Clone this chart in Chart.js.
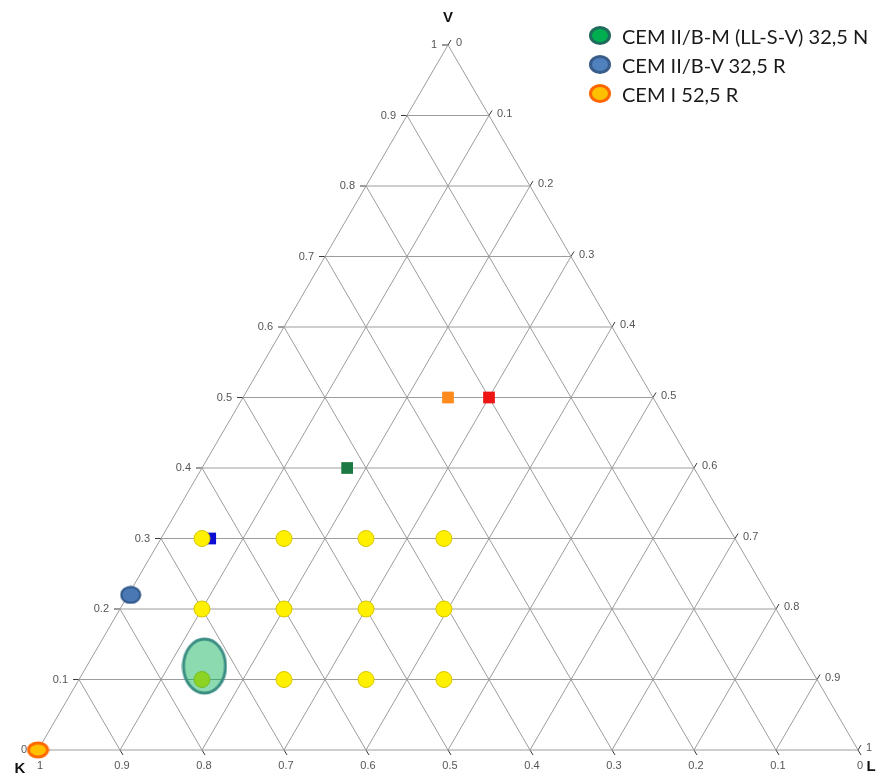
<!DOCTYPE html>
<html>
<head>
<meta charset="utf-8">
<title>Ternary diagram K – L – V</title>
<script src="https://cdn.jsdelivr.net/npm/chart.js@4.4.1/dist/chart.umd.min.js"></script>
<style>
  html, body { margin: 0; padding: 0; background: #ffffff; }
  #wrap { position: relative; width: 878px; height: 775px; overflow: hidden; }
  #chart { position: absolute; left: 0; top: 0; }
  .legend { position: absolute; left: 589px; top: 21px; font-family: Lato, "Liberation Sans", Arial, sans-serif; font-size: 20px; color: #1a1a1a; }
  .legend .row { height: 29px; display: flex; align-items: center; white-space: nowrap; }
  .legend .sw { display: inline-block; width: 16px; height: 13px; border-radius: 50%; border: 3px solid; margin-right: 11px; }
</style>
</head>
<body>
<div id="wrap">
  <canvas id="chart" width="878" height="775"></canvas>
  <div class="legend" id="legend"></div>
</div>
<script>
// ---- data -------------------------------------------------------------
// Compositions are given as fractions [K, L, V] that sum to 1.
const gridSteps  = [0.1, 0.2, 0.3, 0.4, 0.5, 0.6, 0.7, 0.8, 0.9];
const tickValues = [0, 0.1, 0.2, 0.3, 0.4, 0.5, 0.6, 0.7, 0.8, 0.9, 1];
const tickLabels = ['0', '0.1', '0.2', '0.3', '0.4', '0.5', '0.6', '0.7', '0.8', '0.9', '1'];
const cornerNames = ['K', 'L', 'V'];

// mixes (yellow dots)
const mixK = [0.65, 0.55, 0.45, 0.355, 0.70, 0.60, 0.50, 0.405, 0.75, 0.65, 0.55, 0.455];
const mixL = [0.05, 0.15, 0.25, 0.345, 0.10, 0.20, 0.30, 0.395, 0.15, 0.25, 0.35, 0.445];
const mixV = [0.30, 0.30, 0.30, 0.30,  0.20, 0.20, 0.20, 0.20,  0.10, 0.10, 0.10, 0.10];

// reference compositions (squares)
const refK = [0.64, 0.423, 0.25, 0.20];
const refL = [0.06, 0.177, 0.25, 0.30];
const refV = [0.30, 0.40,  0.50, 0.50];

// cement types
const cementNames = ['CEM II/B-M (LL-S-V) 32,5 N', 'CEM II/B-V 32,5 R', 'CEM I 52,5 R'];
const cementK = [0.7375, 0.777, 1.0];
const cementL = [0.1435, 0.003, 0.0];
const cementV = [0.119,  0.220, 0.0];

// ---- styles -----------------------------------------------------------
const refColors = ['#0c0cd2', '#1b7a43', '#ff8a1c', '#ee1515'];
const cementStyles = [
  { w: 45, h: 57, fill: 'rgba(0,176,80,0.45)', stroke: '#3b8e84', lw: 3, swFill: '#00b050', swStroke: '#1f6b5c' },
  { w: 21, h: 18, fill: '#4a78b5', stroke: '#2c5485', lw: 2, swFill: '#4f81bd', swStroke: '#385d8a' },
  { w: 22, h: 17, fill: '#ffc000', stroke: '#ff6a00', lw: 3, swFill: '#ffc000', swStroke: '#ff6600' }
];
const GRID = '#9c9c9c';

// ---- helpers ----------------------------------------------------------
const H = Math.sqrt(3) / 2;
function toXY(k, l, v) {
  const s = k + l + v;
  return { x: (l + v / 2) / s, y: (v / s) * H };
}
function ellipseImage(st) {
  const c = document.createElement('canvas');
  c.width = st.w + 1; c.height = st.h + 1;
  const g = c.getContext('2d');
  g.beginPath();
  g.ellipse(c.width / 2, c.height / 2, st.w / 2 - st.lw / 2, st.h / 2 - st.lw / 2, 0, 0, Math.PI * 2);
  g.fillStyle = st.fill; g.fill();
  g.lineWidth = st.lw; g.strokeStyle = st.stroke; g.stroke();
  return c;
}
function lineSet(a, b) {
  return {
    type: 'scatter', data: [a, b], showLine: true, borderColor: GRID, borderWidth: 1,
    pointRadius: 0, pointHoverRadius: 0, fill: false, order: 100, clip: false
  };
}

// ---- datasets ---------------------------------------------------------
const datasets = [];
// triangle outline
datasets.push(Object.assign(lineSet(toXY(1, 0, 0), toXY(0, 1, 0)), {
  data: [toXY(1, 0, 0), toXY(0, 1, 0), toXY(0, 0, 1), toXY(1, 0, 0)]
}));
// grid lines: constant V, constant L, constant K
gridSteps.forEach(g => {
  datasets.push(lineSet(toXY(1 - g, 0, g), toXY(0, 1 - g, g)));
  datasets.push(lineSet(toXY(1 - g, g, 0), toXY(0, g, 1 - g)));
  datasets.push(lineSet(toXY(g, 1 - g, 0), toXY(g, 0, 1 - g)));
});
// reference squares
refK.forEach((k, i) => {
  datasets.push({
    type: 'scatter', data: [toXY(k, refL[i], refV[i])],
    pointStyle: 'rect', pointRadius: 8.3, pointBorderWidth: 0,
    backgroundColor: refColors[i], borderColor: refColors[i],
    order: i === 0 ? 60 : 40, clip: false
  });
});
// mixes
datasets.push({
  type: 'scatter', data: mixK.map((k, i) => toXY(k, mixL[i], mixV[i])),
  pointStyle: 'circle', pointRadius: 8, borderWidth: 1,
  backgroundColor: '#fff000', borderColor: '#d6c600', order: 30, clip: false
});
// cement types
cementNames.forEach((name, i) => {
  datasets.push({
    type: 'scatter', label: name, data: [toXY(cementK[i], cementL[i], cementV[i])],
    pointStyle: ellipseImage(cementStyles[i]), pointRadius: 10,
    order: i === 0 ? 20 : 10, clip: false
  });
});

// ---- axis ticks, tick labels and corner names (drawn below the marks) --
const ternaryAxes = {
  id: 'ternaryAxes',
  beforeDatasetsDraw(chart) {
    const { ctx, scales: { x, y } } = chart;
    const px = p => ({ x: x.getPixelForValue(p.x), y: y.getPixelForValue(p.y) });
    ctx.save();
    ctx.strokeStyle = '#3a3a3a';
    ctx.lineWidth = 1;
    ctx.fillStyle = '#555555';
    ctx.font = '11px "Liberation Sans", Arial, sans-serif';
    tickValues.forEach((t, i) => {
      // left edge: V
      let p = px(toXY(1 - t, 0, t));
      ctx.beginPath(); ctx.moveTo(p.x - 6, p.y); ctx.lineTo(p.x, p.y); ctx.stroke();
      ctx.textAlign = 'right'; ctx.textBaseline = 'middle';
      ctx.fillText(tickLabels[i], p.x - 11, p.y);
      // right edge: L
      p = px(toXY(0, t, 1 - t));
      ctx.beginPath(); ctx.moveTo(p.x, p.y); ctx.lineTo(p.x + 3, p.y - 5); ctx.stroke();
      ctx.textAlign = 'left'; ctx.textBaseline = 'middle';
      ctx.fillText(tickLabels[i], p.x + 8, p.y - 2);
      // bottom edge: K
      p = px(toXY(t, 1 - t, 0));
      ctx.beginPath(); ctx.moveTo(p.x, p.y); ctx.lineTo(p.x + 3, p.y + 5); ctx.stroke();
      ctx.textAlign = 'center'; ctx.textBaseline = 'middle';
      ctx.fillText(tickLabels[i], p.x + 2, p.y + 16);
    });
    ctx.fillStyle = '#111111';
    ctx.font = 'bold 15px "Liberation Sans", Arial, sans-serif';
    ctx.textAlign = 'center'; ctx.textBaseline = 'middle';
    let p = px(toXY(1, 0, 0));
    ctx.fillText(cornerNames[0], p.x - 18, p.y + 19);
    p = px(toXY(0, 1, 0));
    ctx.fillText(cornerNames[1], p.x + 13, p.y + 17);
    p = px(toXY(0, 0, 1));
    ctx.fillText(cornerNames[2], p.x, p.y - 27);
    ctx.restore();
  }
};

new Chart(document.getElementById('chart'), {
  type: 'scatter',
  data: { datasets },
  options: {
    responsive: false,
    animation: false,
    devicePixelRatio: 1,
    events: [],
    layout: { padding: { left: 38, right: 20, top: 45, bottom: 25 } },
    scales: {
      x: { type: 'linear', min: 0, max: 1, display: false },
      y: { type: 'linear', min: 0, max: H, display: false }
    },
    plugins: { legend: { display: false }, tooltip: { enabled: false } }
  },
  plugins: [ternaryAxes]
});

// legend for the cement types
const legendEl = document.getElementById('legend');
cementNames.forEach((name, i) => {
  const row = document.createElement('div');
  row.className = 'row';
  const sw = document.createElement('span');
  sw.className = 'sw';
  sw.style.background = cementStyles[i].swFill;
  sw.style.borderColor = cementStyles[i].swStroke;
  row.appendChild(sw);
  row.appendChild(document.createTextNode(name));
  legendEl.appendChild(row);
});
</script>
</body>
</html>
